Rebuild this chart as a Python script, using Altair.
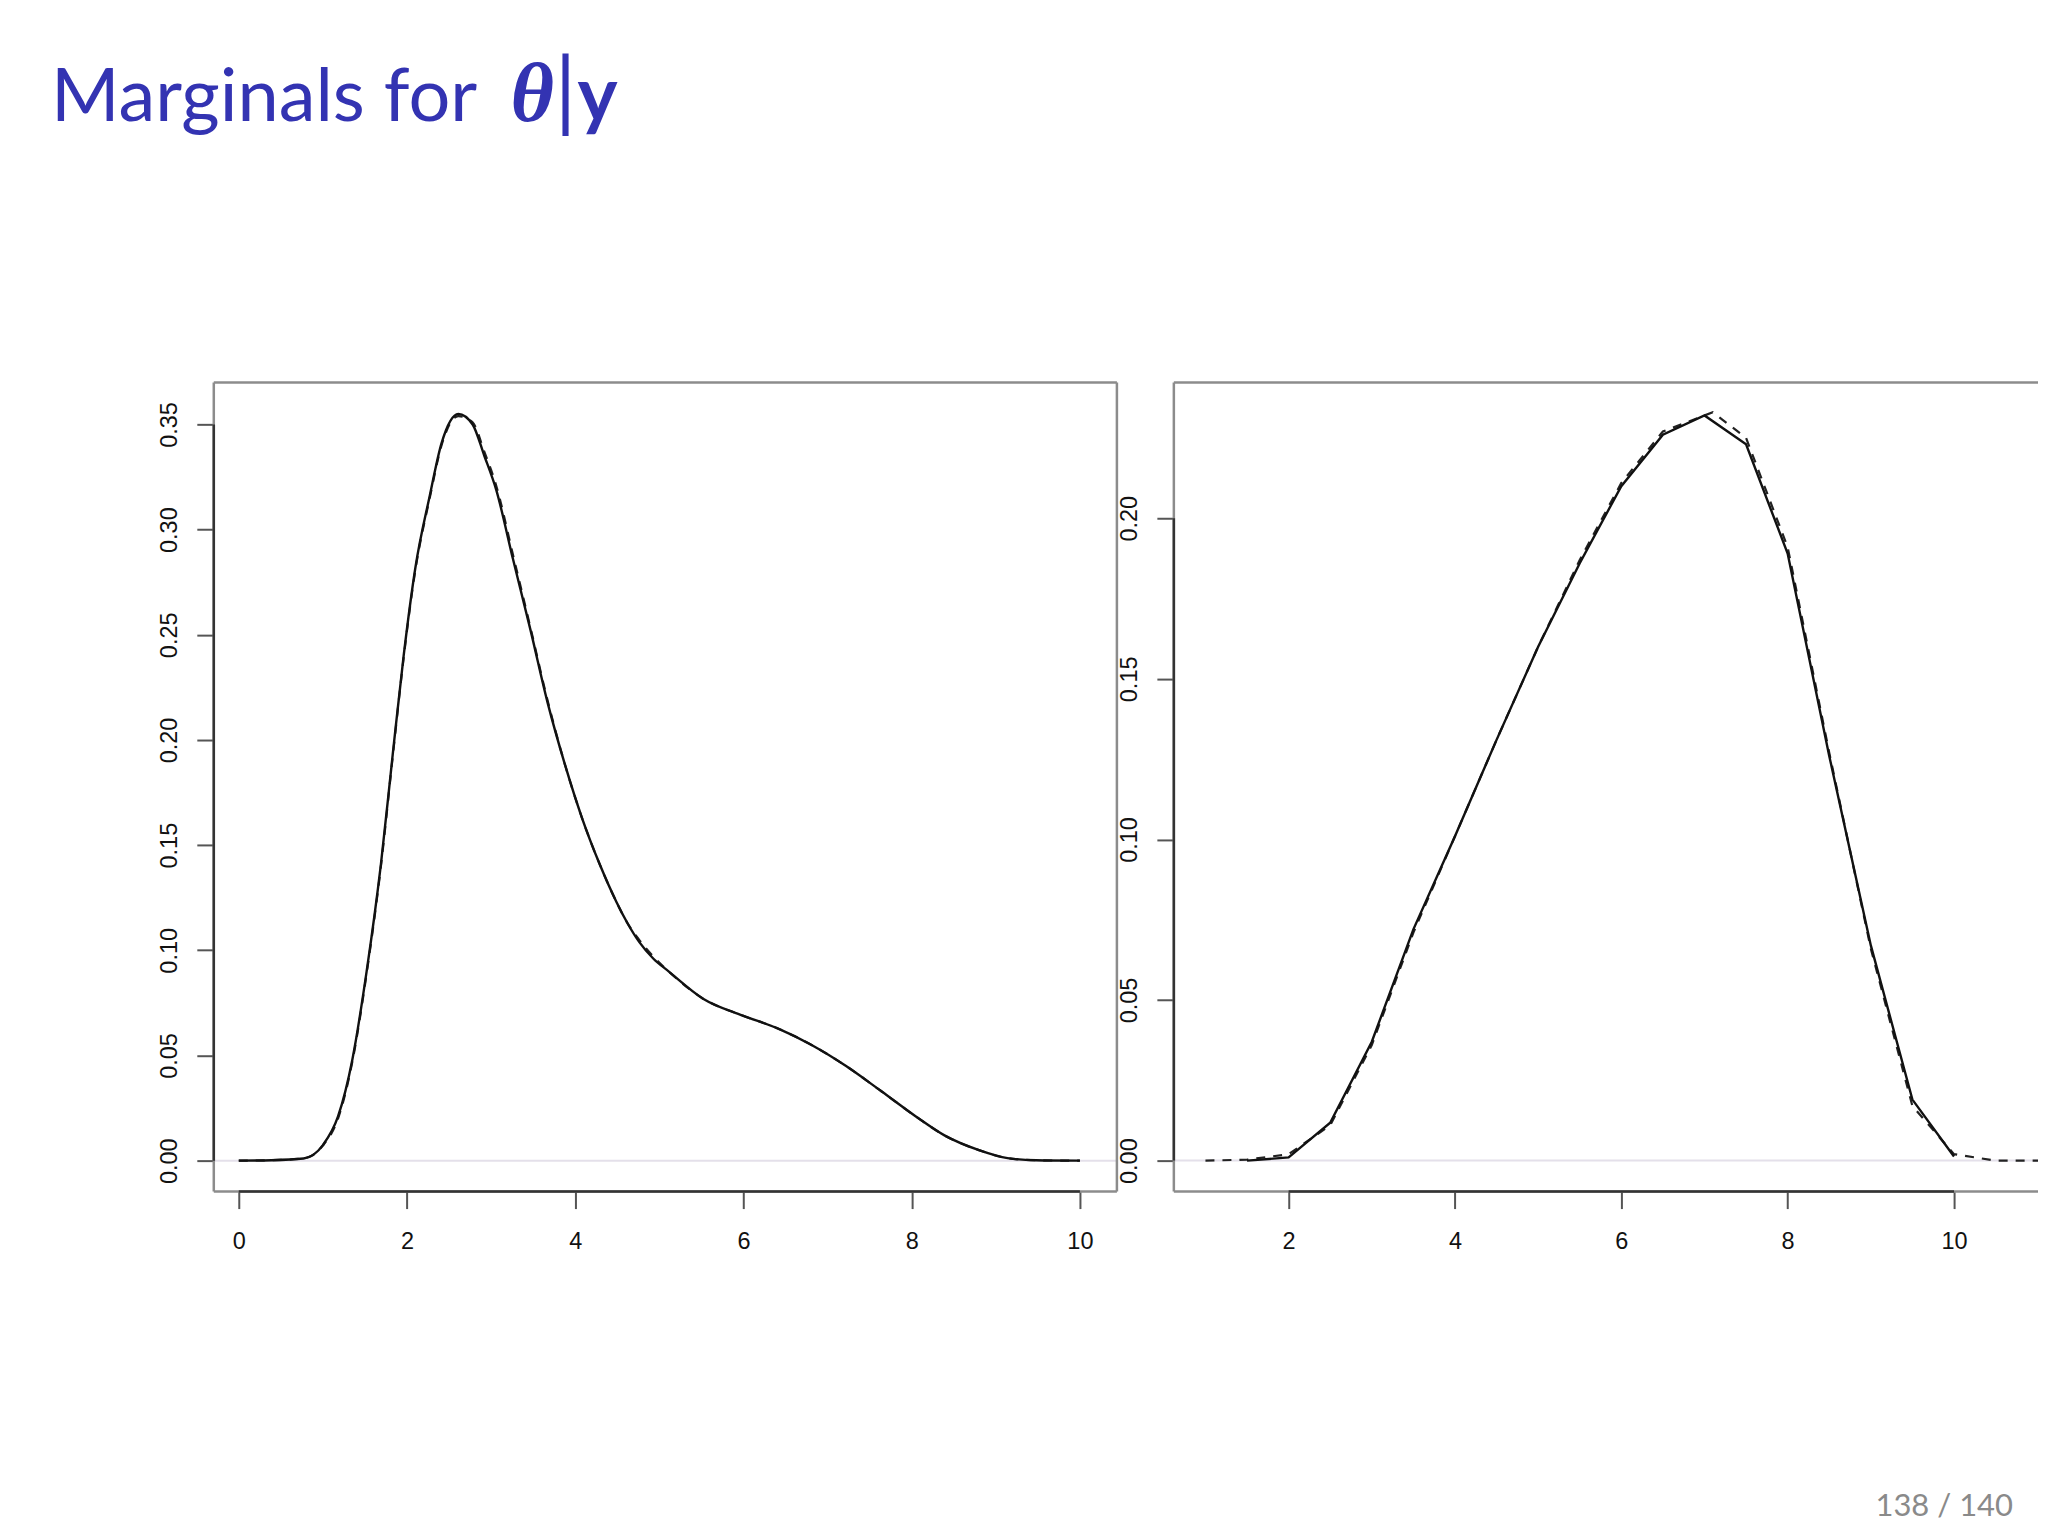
import altair as alt
import pandas as pd

# ---------------- data ----------------
# left panel: marginal density (solid) and second estimate (dashed)
left_x = [0.0, 0.39, 0.77, 1.0, 1.18, 1.35, 1.52, 1.69, 1.83, 1.96, 2.10, 2.27, 2.41,
          2.61, 2.78, 2.92, 3.06, 3.26, 3.47, 3.67, 3.88, 4.08, 4.29, 4.49, 4.62, 4.76,
          4.93, 5.11, 5.52, 5.99, 6.40, 6.81, 7.22, 7.64, 8.05, 8.39, 8.80, 9.14, 9.48,
          10.0]
left_solid = [0.0, 0.0002, 0.001, 0.0074, 0.021, 0.048, 0.090, 0.141, 0.193, 0.240, 0.282,
              0.316, 0.341, 0.355, 0.350, 0.335, 0.319, 0.286, 0.252, 0.218, 0.188, 0.163,
              0.141, 0.123, 0.113, 0.104, 0.096, 0.090, 0.077, 0.069, 0.063, 0.055, 0.045,
              0.033, 0.021, 0.012, 0.005, 0.0012, 0.0002, 0.0]
left_dashed = [0.0, 0.0002, 0.0011, 0.0072, 0.020, 0.047, 0.089, 0.140, 0.192, 0.239, 0.281,
               0.315, 0.340, 0.354, 0.351, 0.337, 0.321, 0.288, 0.253, 0.219, 0.188, 0.163,
               0.141, 0.123, 0.113, 0.105, 0.097, 0.090, 0.077, 0.069, 0.063, 0.055, 0.045,
               0.033, 0.021, 0.012, 0.005, 0.0012, 0.0002, 0.0]

# right panel
right_x = [1.5, 2.0, 2.5, 3.0, 3.5, 4.0, 4.5, 5.0, 5.5, 6.0, 6.5, 7.0, 7.5, 8.0, 8.5,
           9.0, 9.5, 10.0]
right_solid = [0.0, 0.001, 0.0118, 0.037, 0.072, 0.101, 0.131, 0.160, 0.186, 0.210, 0.226,
               0.232, 0.223, 0.189, 0.126, 0.067, 0.019, 0.0013]
right_dash_x = [1.0, 1.5, 2.0, 2.5, 3.0, 3.5, 4.0, 4.5, 5.0, 5.5, 6.0, 6.5, 7.0, 7.1, 7.5,
                8.0, 8.5, 9.0, 9.5, 10.0, 10.5, 11.0, 11.5]
right_dashed = [0.0, 0.0003, 0.002, 0.011, 0.036, 0.071, 0.101, 0.131, 0.160, 0.187, 0.211,
                0.227, 0.232, 0.233, 0.225, 0.191, 0.127, 0.066, 0.017, 0.002, 0.0, 0.0, 0.0]

left_xticks = [0, 2, 4, 6, 8, 10]
left_yticks = [0.00, 0.05, 0.10, 0.15, 0.20, 0.25, 0.30, 0.35]
right_xticks = [2, 4, 6, 8, 10]
right_yticks = [0.00, 0.05, 0.10, 0.15, 0.20]

title_text = "Marginals for"
title_theta = "θ"
title_bar = "|"
title_y = "y"
page_text = "138 / 140"

# ---------------- styling ----------------
BLUE = "#3333B2"
FRAME = "#8c8c8c"
AXLINE = "#333333"
TICKFONT = "Liberation Sans"
H = 810


def panel(sx, sy, dx, dy, xdom, ydom, xticks, yticks, W, interp, right_side, extras):
    xs = alt.Scale(domain=xdom, nice=False, zero=False)
    ys = alt.Scale(domain=ydom, nice=False, zero=False)
    xaxis = alt.Axis(values=xticks, format="d", title=None, grid=False, domain=False,
                     labelAngle=0, labelAlign="center", labelBaseline="top",
                     labelPadding=21, labelFlush=False, labelFont=TICKFONT,
                     labelFontSize=23.5, labelColor="#111111", tickColor="#555555",
                     tickWidth=2, tickSize=17)
    yaxis = alt.Axis(values=yticks, format=".2f", title=None, grid=False, domain=False,
                     labelAngle=270, labelAlign="center", labelBaseline="alphabetic",
                     labelPadding=20, labelFlush=False, labelFont=TICKFONT,
                     labelFontSize=23.5, labelColor="#111111", tickColor="#555555",
                     tickWidth=2, tickSize=17)
    one = pd.DataFrame({"a": [0]})

    zero = alt.Chart(pd.DataFrame({"y": [0.0]})).mark_rule(
        color="#e4e0ea", strokeWidth=2).encode(
        y=alt.Y("y:Q", scale=ys, axis=yaxis), x=alt.value(0), x2=alt.value(W))

    frames = [
        alt.Chart(one).mark_rule(color=FRAME, strokeWidth=2.5).encode(
            x=alt.value(0), x2=alt.value(W), y=alt.value(0)),
        alt.Chart(one).mark_rule(color=FRAME, strokeWidth=2.5).encode(
            x=alt.value(0), x2=alt.value(W), y=alt.value(H)),
        alt.Chart(one).mark_rule(color=FRAME, strokeWidth=2.5).encode(
            x=alt.value(0), y=alt.value(0), y2=alt.value(H)),
    ]
    if right_side:
        frames.append(alt.Chart(one).mark_rule(color=FRAME, strokeWidth=2.5).encode(
            x=alt.value(W), y=alt.value(0), y2=alt.value(H)))

    yline = alt.Chart(pd.DataFrame({"y": [yticks[0]], "b": [yticks[-1]]})).mark_rule(
        color=AXLINE, strokeWidth=2.5).encode(
        x=alt.value(0), y=alt.Y("y:Q", scale=ys, axis=yaxis), y2="b:Q")
    xline = alt.Chart(pd.DataFrame({"x": [xticks[0]], "b": [xticks[-1]]})).mark_rule(
        color=AXLINE, strokeWidth=2.5).encode(
        y=alt.value(H), x=alt.X("x:Q", scale=xs, axis=xaxis), x2="b:Q")

    dashed = alt.Chart(pd.DataFrame({"x": dx, "y": dy})).mark_line(
        color="#222222", strokeWidth=2.2, strokeDash=[9, 8], clip=True,
        interpolate=interp).encode(
        x=alt.X("x:Q", scale=xs, axis=xaxis), y=alt.Y("y:Q", scale=ys, axis=yaxis))
    solid = alt.Chart(pd.DataFrame({"x": sx, "y": sy})).mark_line(
        color="#111111", strokeWidth=2.4, clip=True, interpolate=interp).encode(
        x=alt.X("x:Q", scale=xs, axis=xaxis), y=alt.Y("y:Q", scale=ys, axis=yaxis))

    layers = [zero] + frames + [yline, xline, dashed, solid] + extras
    return alt.layer(*layers).properties(width=W, height=H)


one = pd.DataFrame({"a": [0]})
extras = [
    alt.Chart(one).mark_text(text=title_text, font="Lato", fontSize=74, color=BLUE,
                             align="left", baseline="alphabetic").encode(
        x=alt.value(-163), y=alt.value(-262)),
    alt.Chart(one).mark_text(text=title_theta, font="Liberation Serif", fontSize=84,
                             fontStyle="italic", fontWeight="bold", color=BLUE,
                             align="left", baseline="alphabetic").encode(
        x=alt.value(297), y=alt.value(-262)),
    alt.Chart(one).mark_text(text=title_bar, font="Lato", fontSize=88, color=BLUE,
                             align="center", baseline="alphabetic").encode(
        x=alt.value(352), y=alt.value(-262)),
    alt.Chart(one).mark_text(text=title_y, font="Lato", fontSize=76, fontWeight="bold",
                             color=BLUE, align="left", baseline="alphabetic").encode(
        x=alt.value(364), y=alt.value(-262)),
    alt.Chart(one).mark_text(text=page_text, font="Lato", fontSize=31, color="#8a8a8a",
                             align="right", baseline="alphabetic").encode(
        x=alt.value(1801), y=alt.value(1135)),
]

left = panel(left_x, left_solid, left_x, left_dashed, [-0.297, 10.44], [-0.0147, 0.370],
             left_xticks, left_yticks, 904, "monotone", True, extras)
right = panel(right_x, right_solid, right_dash_x, right_dashed, [0.62, 11.01],
              [-0.00964, 0.2423], right_xticks, right_yticks, 865, "linear", False, [])

chart = alt.hconcat(left, right, spacing=57, bounds="flush").properties(
    padding={"left": 42, "top": 41, "right": 0, "bottom": 8},
    background="white",
).configure_view(stroke="transparent")

chart.save("out.html", embed_options={"renderer": "svg", "actions": False})
